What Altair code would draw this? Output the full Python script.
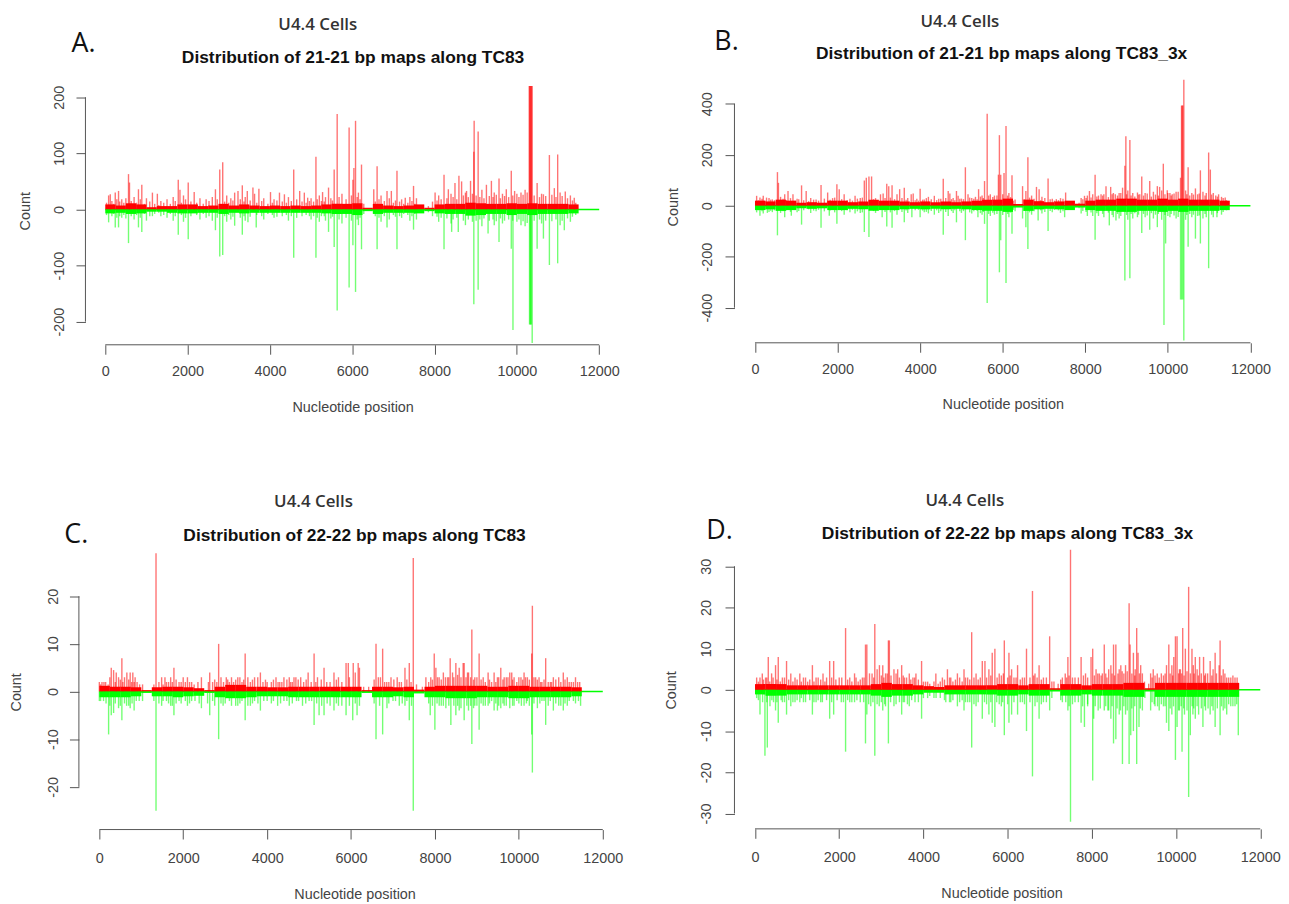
import altair as alt
import pandas as pd

# ---------------- data ----------------
X_TICKS = [0, 2000, 4000, 6000, 8000, 10000, 12000]
BASELINE_END = [0, 12000]
CARPET_BIN = 250  # nt per low-level "carpet" bin, bins cover 0 .. 11500

# Panel A : 21-21 bp maps along TC83
A_RED = [(81,25),(121,27),(242,30),(322,33),(400,18),(564,63),(588,48),(700,22),(806,36),(887,44),(1000,20),(1145,30),(1265,28),(1350,15),(1500,18),(1650,22),(1773,53),(1814,35),(1900,25),(2015,48),(2160,31),(2300,20),(2450,18),(2600,22),(2676,36),(2781,71),(2853,84),(2950,25),(3050,20),(3143,30),(3224,33),(3329,43),(3400,22),(3450,33),(3587,39),(3627,28),(3732,37),(3850,20),(4014,31),(4100,18),(4232,30),(4352,27),(4450,22),(4578,71),(4723,33),(4836,30),(4917,21),(5000,20),(5118,94),(5200,25),(5279,31),(5350,22),(5424,39),(5561,71),(5634,170),(5750,28),(5924,146),(6016,53),(6040,74),(6080,158),(6150,30),(6225,80),(6523,36),(6604,77),(6700,25),(6845,33),(6900,20),(6950,33),(7087,69),(7200,18),(7288,21),(7400,22),(7489,42),(7560,20),(8013,30),(8100,25),(8230,62),(8335,36),(8400,28),(8496,47),(8592,60),(8657,50),(8750,30),(8777,33),(8874,51),(8954,103),(8962,158),(9059,139),(9150,35),(9260,44),(9381,51),(9450,30),(9566,55),(9650,28),(9743,36),(9864,69),(9945,33),(10100,30),(10200,35),(10300,220),(10314,220),(10328,220),(10342,220),(10356,220),(10370,220),(10492,47),(10600,28),(10645,27),(10790,97),(10910,38),(10991,98),(11050,30),(11176,32),(11300,25),(11394,21)]
A_RED_SMALL = [(30,12),(160,15),(200,10),(280,18),(350,14),(450,12),(500,20),(630,15),(760,12),(850,18),(950,10),(1080,14),(1200,10),(1300,8),(1420,12),(1580,10),(1700,15),(1850,12),(1950,18),(2080,14),(2220,12),(2380,10),(2520,15),(2720,18),(2900,14),(3000,12),(3100,16),(3280,18),(3370,14),(3520,16),(3680,12),(3800,15),(3950,10),(4060,12),(4170,16),(4300,14),(4400,12),(4520,15),(4650,18),(4780,14),(4880,12),(4960,15),(5060,14),(5150,18),(5250,15),(5320,14),(5480,20),(5520,16),(5680,22),(5850,18),(5980,25),(6120,22),(6190,18),(6280,10),(6560,14),(6650,18),(6780,15),(7000,12),(7050,16),(7150,14),(7250,10),(7350,12),(7450,15),(7520,10),(7850,6),(7950,14),(8060,16),(8160,18),(8300,20),(8450,22),(8540,18),(8700,25),(8820,22),(8920,28),(9010,25),(9100,22),(9200,20),(9330,24),(9420,22),(9500,26),(9600,20),(9700,24),(9800,22),(9900,25),(10000,28),(10050,22),(10150,26),(10250,30),(10420,25),(10550,22),(10700,24),(10850,26),(10950,22),(11100,24),(11230,20),(11350,16),(11430,12)]
A_GREEN = [(81,-23),(242,-32),(322,-32),(400,-15),(564,-60),(700,-18),(806,-32),(887,-40),(1000,-20),(1145,-12),(1350,-12),(1500,-15),(1650,-20),(1773,-45),(1900,-22),(2015,-53),(2300,-18),(2450,-15),(2600,-20),(2676,-37),(2781,-84),(2853,-81),(2950,-22),(3050,-18),(3143,-29),(3329,-45),(3400,-20),(3466,-23),(3667,-32),(3850,-18),(4100,-15),(4450,-20),(4578,-86),(5000,-18),(5118,-86),(5200,-22),(5350,-20),(5424,-40),(5561,-67),(5634,-180),(5750,-25),(5924,-139),(6016,-64),(6080,-147),(6150,-28),(6225,-71),(6604,-71),(6700,-22),(6845,-32),(6900,-18),(7087,-71),(7200,-15),(7400,-20),(7489,-36),(7560,-18),(8100,-22),(8230,-71),(8400,-25),(8415,-40),(8576,-40),(8750,-28),(8954,-169),(9059,-143),(9150,-30),(9300,-43),(9450,-28),(9566,-58),(9650,-25),(9864,-70),(9905,-215),(10100,-28),(10200,-30),(10307,-205),(10322,-205),(10336,-205),(10350,-205),(10372,-238),(10492,-70),(10600,-25),(10645,-52),(10790,-99),(10991,-96),(11050,-28),(11152,-37),(11300,-22)]
A_GREEN_SMALL = [(30,-10),(160,-12),(200,-8),(280,-15),(350,-12),(450,-10),(500,-16),(630,-12),(760,-10),(850,-15),(950,-8),(1080,-12),(1200,-8),(1300,-6),(1420,-10),(1580,-8),(1700,-12),(1850,-10),(1950,-15),(2080,-12),(2220,-10),(2380,-8),(2520,-12),(2720,-15),(2900,-12),(3000,-10),(3100,-13),(3280,-15),(3370,-12),(3520,-13),(3680,-10),(3800,-12),(3950,-8),(4060,-10),(4170,-13),(4300,-12),(4400,-10),(4520,-12),(4650,-15),(4780,-12),(4880,-10),(4960,-12),(5060,-12),(5150,-15),(5250,-12),(5320,-12),(5480,-16),(5520,-13),(5680,-18),(5850,-15),(5980,-20),(6120,-18),(6190,-15),(6280,-8),(6560,-12),(6650,-15),(6780,-12),(7000,-10),(7050,-13),(7150,-12),(7250,-8),(7350,-10),(7450,-12),(7520,-8),(7850,-5),(7950,-12),(8060,-13),(8160,-15),(8300,-16),(8450,-18),(8540,-15),(8700,-20),(8820,-18),(8920,-22),(9010,-20),(9100,-18),(9200,-16),(9330,-20),(9420,-18),(9500,-21),(9600,-16),(9700,-20),(9800,-18),(9900,-20),(10000,-22),(10050,-18),(10150,-21),(10250,-24),(10420,-20),(10550,-18),(10700,-20),(10850,-21),(10950,-18),(11100,-20),(11230,-16),(11350,-13),(11430,-10)]
A_RED_CARPET = [9,7,11,9,4,6,6,9,9,6,7,10,7,9,7,6,7,6,7,6,7,9,10,10,11,3,10,7,6,7,9,3,9,10,10,12,11,10,10,11,10,11,10,10,10,9]
A_GREEN_CARPET = [7,6,8,7,4,4,6,7,7,6,6,8,6,7,6,6,6,6,6,6,6,7,8,8,10,3,8,6,6,6,7,3,7,8,8,11,10,8,8,10,8,10,8,8,8,7]

# Panel B : 21-21 bp maps along TC83_3x
B_RED = [(40,39),(120,32),(200,39),(280,32),(420,25),(544,132),(568,90),(720,45),(800,58),(920,45),(1020,28),(1128,80),(1240,58),(1350,30),(1480,25),(1600,81),(1760,52),(1880,30),(1984,84),(2040,65),(2160,45),(2300,28),(2424,39),(2550,30),(2648,99),(2696,110),(2760,115),(2824,115),(2920,30),(3040,45),(3104,48),(3192,86),(3240,77),(3320,80),(3440,45),(3504,65),(3616,71),(3700,30),(3784,45),(3832,48),(3920,28),(4000,67),(4100,25),(4200,35),(4344,39),(4450,28),(4560,106),(4680,58),(4720,48),(4800,30),(4880,58),(4920,39),(5000,28),(5096,151),(5160,45),(5250,30),(5340,35),(5416,65),(5500,40),(5560,97),(5624,361),(5700,45),(5800,40),(5896,122),(5920,277),(5952,122),(6032,129),(6080,313),(6150,50),(6225,120),(6300,25),(6481,77),(6561,58),(6610,190),(6700,40),(6818,74),(6882,65),(6950,35),(7099,107),(7200,28),(7299,26),(7400,30),(7524,52),(7900,30),(7981,39),(8050,40),(8101,58),(8180,45),(8238,122),(8320,40),(8382,45),(8450,45),(8502,77),(8615,74),(8680,50),(8727,45),(8820,50),(8903,71),(8959,157),(8983,273),(9030,60),(9080,258),(9150,50),(9264,52),(9320,45),(9368,115),(9450,50),(9561,97),(9650,55),(9745,77),(9801,74),(9850,60),(9890,165),(9986,61),(10050,50),(10106,45),(10200,55),(10307,110),(10331,393),(10347,393),(10363,393),(10387,494),(10430,60),(10491,151),(10580,50),(10668,68),(10720,45),(10788,139),(10850,55),(10930,50),(10988,209),(11029,142),(11100,50),(11160,40),(11229,45),(11300,35),(11389,32)]
B_RED_SMALL = [(80,22),(170,28),(240,20),(340,30),(380,24),(470,22),(620,35),(680,28),(760,22),(860,30),(970,20),(1060,26),(1180,22),(1300,18),(1420,24),(1540,20),(1680,28),(1820,24),(1930,32),(2100,26),(2230,22),(2360,20),(2480,28),(2600,32),(2870,26),(2980,22),(3150,30),(3280,32),(3380,26),(3560,30),(3660,24),(3880,22),(3960,20),(4060,24),(4150,30),(4270,26),(4400,22),(4500,28),(4620,30),(4760,26),(4840,22),(4960,28),(5050,26),(5200,32),(5300,28),(5380,26),(5460,36),(5530,30),(5660,40),(5760,34),(5860,40),(6000,45),(6120,40),(6190,34),(6260,20),(6520,26),(6650,32),(6760,28),(6920,22),(7020,30),(7150,26),(7250,20),(7350,22),(7460,28),(7560,18),(7850,12),(7940,26),(8020,30),(8140,32),(8280,36),(8420,40),(8560,34),(8650,45),(8780,40),(8860,50),(9000,45),(9110,40),(9200,36),(9290,44),(9410,40),(9500,48),(9600,36),(9700,44),(9770,40),(9930,45),(10000,50),(10080,40),(10150,48),(10250,55),(10460,45),(10530,40),(10620,44),(10760,48),(10900,40),(11060,44),(11200,36),(11340,30),(11420,22)]
B_GREEN = [(40,-26),(120,-39),(200,-30),(300,-28),(420,-25),(544,-116),(720,-45),(880,-39),(1020,-25),(1128,-74),(1350,-28),(1480,-22),(1600,-86),(1800,-39),(1984,-71),(2160,-35),(2300,-25),(2424,-30),(2550,-28),(2648,-103),(2760,-123),(2920,-28),(3080,-45),(3192,-81),(3320,-86),(3440,-35),(3616,-65),(3700,-28),(3800,-45),(4000,-45),(4100,-25),(4200,-30),(4344,-35),(4450,-28),(4560,-114),(4680,-40),(4800,-28),(4880,-65),(5000,-28),(5096,-135),(5250,-30),(5400,-45),(5500,-35),(5560,-71),(5624,-381),(5700,-40),(5800,-35),(5920,-261),(5952,-135),(6080,-303),(6150,-45),(6225,-110),(6300,-22),(6481,-50),(6561,-84),(6610,-170),(6700,-35),(6858,-58),(6950,-30),(7099,-99),(7200,-25),(7400,-28),(7500,-45),(7900,-30),(8050,-40),(8180,-40),(8238,-133),(8320,-40),(8450,-45),(8582,-77),(8680,-45),(8743,-58),(8820,-50),(8959,-293),(9030,-55),(9080,-284),(9150,-50),(9264,-45),(9368,-107),(9450,-45),(9561,-94),(9650,-50),(9745,-84),(9850,-55),(9906,-468),(9946,-148),(10050,-45),(10200,-50),(10307,-368),(10335,-368),(10363,-368),(10387,-529),(10430,-55),(10491,-161),(10580,-45),(10668,-129),(10720,-40),(10788,-148),(10850,-50),(10930,-45),(10988,-245),(11100,-45),(11189,-45),(11300,-35)]
B_GREEN_SMALL = [(80,-18),(170,-22),(240,-16),(340,-24),(380,-20),(470,-18),(620,-28),(680,-22),(760,-18),(860,-24),(970,-16),(1060,-21),(1180,-18),(1300,-14),(1420,-19),(1540,-16),(1680,-22),(1820,-19),(1930,-26),(2100,-21),(2230,-18),(2360,-16),(2480,-22),(2600,-26),(2870,-21),(2980,-18),(3150,-24),(3280,-26),(3380,-21),(3560,-24),(3660,-19),(3880,-18),(3960,-16),(4060,-19),(4150,-24),(4270,-21),(4400,-18),(4500,-22),(4620,-24),(4760,-21),(4840,-18),(4960,-22),(5050,-21),(5200,-26),(5300,-22),(5380,-21),(5460,-29),(5530,-24),(5660,-32),(5760,-27),(5860,-32),(6000,-36),(6120,-32),(6190,-27),(6260,-16),(6520,-21),(6650,-26),(6760,-22),(6920,-18),(7020,-24),(7150,-21),(7250,-16),(7350,-18),(7460,-22),(7560,-14),(7850,-10),(7940,-21),(8020,-24),(8140,-26),(8280,-29),(8420,-32),(8560,-27),(8650,-36),(8780,-32),(8860,-40),(9000,-36),(9110,-32),(9200,-29),(9290,-35),(9410,-32),(9500,-38),(9600,-29),(9700,-35),(9770,-32),(9930,-36),(10000,-40),(10080,-32),(10150,-38),(10250,-44),(10460,-36),(10530,-32),(10620,-35),(10760,-38),(10900,-32),(11060,-35),(11200,-29),(11340,-24),(11420,-18)]
B_RED_CARPET = [20,17,24,20,12,14,12,20,20,14,17,24,20,20,17,14,17,14,17,14,17,20,24,24,28,7,24,18,14,17,20,8,20,24,24,28,28,24,24,28,24,28,24,24,24,20]
B_GREEN_CARPET = [17,14,20,17,10,12,10,17,17,12,14,20,17,17,14,12,14,12,14,12,14,17,20,20,24,7,20,14,12,14,17,7,17,20,20,24,24,20,20,24,20,24,20,20,20,17]

# Panel C : 22-22 bp maps along TC83
C_RED = [(0,2),(63,2),(150,2),(284,5),(340,4.5),(403,4),(458,3),(537,7),(600,3),(656,4),(735,4),(798,4),(853,3),(900,2),(1351,29),(1485,3),(1564,3),(1600,2),(1700,3),(1778,5),(1900,2),(1999,3),(2100,3),(2200,2),(2433,3),(2631,4),(2700,2),(2844,10),(2900,3),(3026,3),(3100,2),(3200,2),(3300,3),(3400,2),(3476,8),(3600,2),(3700,3),(3776,3),(3839,4),(4000,2),(4211,3),(4300,2),(4400,3),(4527,3),(4600,2),(4685,3),(4800,3),(4977,4),(5050,2),(5119,8),(5200,3),(5356,5),(5500,2),(5593,4),(5700,3),(5881,6),(5934,6),(6052,6),(6100,4),(6170,6),(6200,5),(6595,10),(6650,3),(6753,9),(6850,2),(6952,3),(7100,3),(7200,2),(7285,5),(7388,6),(7483,28),(7784,3),(7900,3),(7983,8),(8022,5),(8100,3),(8200,4),(8300,3),(8363,7),(8419,4),(8450,3),(8498,6),(8578,5),(8672,6),(8696,6),(8776,4),(8800,4),(8879,13),(8950,3),(9053,8),(9150,3),(9267,4),(9350,2),(9410,4),(9489,3),(9569,5),(9650,3),(9700,3),(9783,4),(9830,4),(9886,3),(9950,2),(10050,3),(10124,4),(10203,3),(10306,8),(10322,18),(10400,3),(10481,3),(10550,2),(10639,7),(10750,2),(10822,3),(10950,3),(11059,4),(11154,3),(11250,2),(11350,3),(11450,2)]
C_RED_SMALL = [(30,1.5),(110,2),(210,1.5),(250,3),(380,2),(500,2.5),(560,2),(700,2.5),(770,2),(830,2),(960,1.5),(1030,1.5),(1300,1.5),(1420,2),(1520,1.5),(1650,2),(1740,2),(1830,2.5),(1950,2),(2050,2),(2150,2),(2260,1.5),(2350,2),(2600,2),(2750,2.5),(2800,2),(2960,2),(3060,2.5),(3150,3),(3250,2.5),(3350,3),(3440,2.5),(3540,3),(3650,2.5),(3900,2),(3960,2.5),(4100,2),(4150,2.5),(4260,2),(4350,2),(4470,2.5),(4560,2),(4640,3),(4740,2.5),(4870,2),(4930,2.5),(5160,2),(5290,2.5),(5420,2),(5650,2.5),(5780,2),(5960,3),(6300,1),(6420,1),(6550,2.5),(6700,3),(6800,2),(6900,2),(7020,2.5),(7150,2),(7330,2.5),(7430,2),(7560,1.5),(7700,1),(7850,2),(7940,2.5),(8060,3),(8150,2.5),(8250,3),(8330,3),(8540,3.5),(8620,3),(8740,3),(8850,3),(8920,2.5),(9000,3),(9100,2.5),(9200,2),(9300,2.5),(9450,2),(9520,3),(9620,2.5),(9740,3),(9850,2.5),(10000,3),(10090,2.5),(10160,3),(10250,2.5),(10360,3),(10440,2.5),(10520,2),(10600,2.5),(10700,2),(10780,2),(10880,2.5),(11000,2),(11100,2.5),(11200,2),(11300,2),(11400,2)]
C_GREEN = [(0,-2),(100,-2),(221,-9),(284,-5),(340,-4.5),(458,-3.5),(537,-6),(650,-3),(735,-3.5),(829,-4),(950,-2),(1351,-25),(1485,-3),(1600,-2),(1700,-3),(1778,-5),(1900,-2),(2100,-3),(2200,-2),(2433,-3.5),(2631,-5),(2700,-2),(2844,-10),(2950,-3),(3100,-2),(3250,-3),(3400,-2),(3476,-6),(3600,-3),(3700,-2),(3839,-4),(4000,-2),(4250,-3),(4400,-2),(4527,-3),(4700,-2),(4843,-3),(5000,-2),(5119,-7),(5238,-5),(5356,-5),(5500,-3),(5593,-4),(5700,-3),(5881,-5),(6040,-6),(6143,-5),(6595,-10),(6753,-9),(6856,-3.5),(7000,-2),(7150,-3),(7285,-3),(7388,-6),(7483,-25),(7887,-5),(7998,-8),(8101,-3),(8200,-3),(8379,-7),(8450,-3),(8498,-5),(8578,-4),(8696,-6),(8800,-4),(8879,-11),(8950,-3),(9053,-8),(9150,-3),(9267,-3),(9350,-2),(9410,-4),(9489,-4),(9569,-3.5),(9650,-3),(9783,-3.5),(9886,-3),(9950,-2),(10124,-3),(10200,-2),(10306,-9),(10322,-17),(10441,-3.5),(10550,-2),(10639,-7),(10750,-2),(10822,-4),(10950,-3),(11059,-4),(11154,-3),(11300,-2),(11471,-3)]
C_GREEN_SMALL = [(30,-2),(160,-2.5),(250,-3),(380,-2.5),(500,-3),(600,-2.5),(700,-3),(780,-2.5),(880,-2),(1030,-2),(1300,-2),(1420,-2.5),(1520,-2),(1650,-2.5),(1740,-3),(1830,-2.5),(1950,-2.5),(2050,-2),(2150,-2.5),(2280,-2),(2380,-2.5),(2580,-2.5),(2750,-3),(2900,-2.5),(3000,-2.5),(3150,-3),(3300,-3),(3350,-2.5),(3540,-3),(3650,-2.5),(3780,-2.5),(3920,-2),(4100,-2.5),(4150,-2),(4320,-2.5),(4470,-2),(4600,-2.5),(4750,-2),(4920,-2.5),(5060,-2),(5180,-2.5),(5300,-3),(5430,-2.5),(5650,-2.5),(5780,-3),(5960,-3),(6100,-2.5),(6200,-3),(6550,-2.5),(6680,-3),(6900,-2.5),(7060,-2),(7220,-2.5),(7330,-2),(7440,-3),(7850,-2.5),(7940,-3),(8050,-2.5),(8150,-3),(8260,-3.5),(8330,-3),(8540,-3),(8620,-3.5),(8760,-3),(8850,-3),(8920,-3.5),(9000,-3),(9100,-2.5),(9200,-3),(9300,-2.5),(9450,-2.5),(9520,-3),(9620,-2.5),(9700,-3),(9850,-3),(10000,-2.5),(10060,-3),(10180,-2.5),(10250,-3),(10360,-2.5),(10500,-2.5),(10600,-2),(10700,-3),(10880,-2.5),(11000,-3),(11100,-2.5),(11200,-2),(11350,-2.5),(11420,-2)]
C_RED_CARPET = [1.2,1.0,1.0,0.9,0.3,0.9,1.0,1.0,0.9,0.7,0.3,1.0,1.4,1.4,1.0,1.0,0.9,0.9,1.0,1.0,1.0,1.0,1.0,1.0,1.0,0.3,1.0,1.0,0.9,1.0,0.4,1.0,1.2,1.2,1.2,1.2,1.2,1.0,1.0,1.2,1.2,1.0,1.0,1.0,1.0,0.9]
C_GREEN_CARPET = [1.2,1.2,1.2,1.0,0.3,1.0,1.0,1.2,1.0,0.9,0.3,1.2,1.4,1.4,1.2,1.0,1.0,1.0,1.2,1.2,1.2,1.2,1.2,1.2,1.2,0.3,1.2,1.2,1.0,1.2,0.4,1.2,1.2,1.4,1.4,1.4,1.2,1.2,1.2,1.4,1.4,1.2,1.2,1.2,1.2,1.0]

# Panel D : 22-22 bp maps along TC83_3x
D_RED = [(39,3),(118,3),(173,4),(250,3),(315,8),(394,4),(488,6),(552,8),(650,3),(749,7),(850,4),(950,3),(1064,4),(1150,3),(1250,2),(1363,6),(1450,3),(1615,4),(1700,3),(1773,7),(1868,7),(2000,3),(2151,15),(2250,3),(2364,4),(2450,2),(2550,3),(2624,11),(2656,11),(2719,4),(2845,16),(2900,5),(2955,6),(3034,6),(3100,4),(3168,12),(3191,12),(3300,5),(3388,5),(3483,6),(3550,3),(3664,4),(3750,3),(3822,4),(3956,7),(4100,2),(4295,4),(4450,3),(4570,5),(4650,3),(4807,4),(4964,5),(5050,3),(5146,14),(5250,4),(5350,3),(5398,7),(5461,7),(5555,5),(5634,9),(5697,10),(5800,4),(5898,4),(5921,12),(6031,9),(6094,5),(6150,3),(6236,6),(6350,3),(6448,10),(6590,24),(6650,4),(6747,6),(6850,3),(6998,13),(7100,2),(7300,3),(7368,4),(7431,8),(7493,34),(7600,3),(7745,8),(7850,4),(7981,8),(8020,10),(8100,5),(8177,4),(8250,4),(8295,11),(8400,5),(8452,6),(8515,11),(8570,11),(8650,5),(8688,6),(8800,6),(8885,21),(8908,11),(8987,9),(9030,5),(9065,15),(9097,9),(9160,6),(9200,4),(9396,4),(9458,5),(9553,4),(9650,4),(9773,6),(9828,11),(9900,6),(9946,8),(9985,13),(10024,13),(10080,5),(10103,5),(10158,15),(10221,10),(10299,25),(10378,10),(10410,6),(10457,8),(10500,5),(10559,8),(10653,8),(10700,4),(10810,7),(10880,5),(10928,9),(11023,6),(11046,12),(11120,5),(11203,3),(11300,3),(11400,3)]
D_RED_SMALL = [(80,2),(200,2.5),(280,3),(350,2),(430,3),(520,2.5),(600,2),(700,3),(800,2.5),(900,2),(1000,2.5),(1100,2),(1200,3),(1300,2.5),(1400,2),(1500,3),(1560,2.5),(1660,2),(1820,3),(1920,2.5),(2060,3),(2200,2.5),(2300,2),(2400,3),(2500,2.5),(2590,3),(2780,4),(2820,3),(3000,3.5),(3060,3),(3140,4),(3230,3.5),(3350,4),(3430,3),(3520,3.5),(3600,3),(3700,2.5),(3790,3),(3880,2.5),(4000,2),(4050,2),(4150,1.5),(4250,2),(4350,1.5),(4400,2),(4500,2.5),(4620,3),(4700,2),(4760,2.5),(4860,3),(4920,2),(5000,3),(5100,2.5),(5200,3),(5300,2.5),(5500,3),(5600,3.5),(5750,3),(5850,3.5),(6000,3),(6060,3.5),(6200,3),(6300,2.5),(6400,3),(6530,3),(6620,3.5),(6700,3),(6800,2.5),(6920,3),(7050,2),(7200,1.5),(7260,2.5),(7400,3),(7460,3.5),(7540,3),(7680,3),(7800,3.5),(7900,3),(8060,3.5),(8140,4),(8220,3.5),(8330,4),(8360,3),(8480,4),(8540,3.5),(8620,4),(8720,4.5),(8760,4),(8840,4.5),(8950,4),(9020,3.5),(9130,4),(9250,2),(9350,1.5),(9430,3),(9500,3.5),(9600,3),(9700,3.5),(9740,4),(9860,4),(9920,3.5),(10060,4),(10130,4),(10190,3.5),(10260,4.5),(10340,4),(10430,4),(10530,3.5),(10600,4),(10680,3.5),(10750,4),(10850,3.5),(10960,4),(11080,3.5),(11160,4),(11250,3),(11350,3.5),(11450,3)]
D_GREEN = [(39,-2),(118,-6),(236,-16),(292,-14),(355,-4),(488,-5),(552,-8),(650,-3),(749,-6),(850,-4),(950,-3),(1064,-3),(1150,-3),(1363,-6),(1450,-3),(1600,-3),(1773,-7),(1868,-6),(2049,-3),(2151,-15),(2250,-3),(2364,-3),(2500,-3),(2624,-13),(2656,-6),(2750,-4),(2845,-16),(2950,-4),(3034,-5),(3100,-4),(3168,-13),(3300,-4),(3483,-6),(3550,-3),(3664,-4),(3800,-3),(3956,-7),(4100,-2),(4300,-2),(4531,-3),(4650,-3),(4807,-4),(4964,-5),(5050,-3),(5146,-14),(5250,-4),(5398,-7),(5555,-6),(5634,-8),(5697,-9),(5741,-3),(5850,-4),(5921,-11),(6031,-8),(6094,-6),(6236,-6),(6350,-3),(6448,-10),(6590,-21),(6650,-4),(6747,-7),(6850,-3),(6998,-5),(7300,-3),(7431,-5),(7493,-32),(7600,-3),(7745,-8),(7824,-9),(7900,-4),(8020,-22),(8044,-7),(8150,-5),(8295,-5),(8400,-5),(8452,-7),(8515,-13),(8570,-12),(8650,-6),(8727,-18),(8800,-6),(8885,-18),(8924,-11),(8987,-10),(9065,-18),(9120,-9),(9200,-5),(9396,-5),(9500,-4),(9600,-5),(9700,-4),(9773,-8),(9828,-10),(9900,-6),(9985,-17),(10024,-9),(10080,-5),(10142,-15),(10200,-6),(10299,-26),(10339,-11),(10400,-6),(10457,-7),(10536,-6),(10638,-9),(10700,-5),(10810,-6),(10880,-5),(10928,-9),(11046,-11),(11120,-5),(11203,-6),(11300,-4),(11400,-4),(11478,-11)]
D_GREEN_SMALL = [(80,-2.5),(180,-3),(280,-3),(400,-2.5),(440,-3),(520,-3),(620,-2.5),(700,-3),(800,-2.5),(900,-3),(1000,-2.5),(1100,-2),(1200,-3),(1300,-2.5),(1400,-3),(1500,-2.5),(1560,-3),(1700,-2.5),(1820,-3),(1950,-2.5),(2100,-3),(2200,-2.5),(2300,-3),(2420,-2.5),(2580,-3),(2700,-3.5),(2800,-3),(2900,-3.5),(3000,-3),(3080,-3.5),(3220,-3),(3350,-3.5),(3430,-3),(3520,-3),(3620,-3.5),(3720,-2.5),(3880,-3),(4000,-2),(4150,-1.5),(4250,-2),(4400,-2),(4500,-2.5),(4620,-3),(4700,-2.5),(4860,-3),(4920,-2.5),(5000,-3),(5100,-3),(5200,-3.5),(5300,-3),(5450,-3),(5500,-3.5),(5600,-3),(5800,-3.5),(5880,-3),(6000,-3.5),(6150,-3),(6300,-3),(6400,-3.5),(6530,-3),(6700,-3),(6800,-3.5),(6920,-3),(7050,-2),(7260,-2.5),(7380,-3),(7460,-4),(7540,-3.5),(7680,-3),(7780,-4),(7900,-3.5),(8080,-4),(8200,-4.5),(8330,-4),(8380,-5),(8480,-4),(8600,-4.5),(8680,-5),(8760,-4),(8840,-5),(8950,-4.5),(9020,-4),(9150,-4.5),(9260,-2),(9430,-3),(9480,-3.5),(9560,-4),(9650,-3.5),(9740,-4),(9860,-4.5),(9940,-4),(10060,-5),(10120,-4),(10180,-4.5),(10260,-5),(10380,-4),(10420,-4.5),(10500,-4),(10600,-4.5),(10680,-4),(10760,-4.5),(10850,-4),(10980,-4.5),(11080,-4),(11160,-4.5),(11250,-3.5),(11350,-4),(11440,-3.5)]
D_RED_CARPET = [1.4,1.4,1.4,1.1,1.1,1.1,1.1,1.1,1.1,1.1,1.1,1.4,1.7,1.4,1.4,1.1,0.9,0.7,1.1,1.1,1.1,1.1,1.1,1.4,1.4,1.1,1.4,1.4,0.4,1.4,1.4,1.1,1.4,1.4,1.4,1.7,1.7,0.4,1.7,1.7,1.7,1.7,1.7,1.7,1.7,1.7]
D_GREEN_CARPET = [1.1,1.4,1.4,1.1,1.1,1.1,1.1,1.1,1.1,1.1,1.1,1.4,1.7,1.4,1.4,1.1,0.7,0.7,1.1,1.1,1.1,1.1,1.1,1.4,1.4,1.1,1.4,1.4,0.4,1.4,1.4,1.1,1.4,1.4,1.4,1.7,1.7,0.4,1.7,1.7,1.7,1.7,1.7,1.7,1.7,1.7]

CELL_LINE = "U4.4 Cells"
X_TITLE = "Nucleotide position"
Y_TITLE = "Count"

# ---------------- styling / layout ----------------
FONT = "Liberation Sans"
AXC = "#555555"
TXC = "#444444"
RED = "#ff0000"
GREEN = "#00ff00"

PANELS = [
    dict(letter="A.", sub="Distribution of 21-21 bp maps along TC83",
         red=A_RED + A_RED_SMALL, green=A_GREEN + A_GREEN_SMALL, cr=A_RED_CARPET, cg=A_GREEN_CARPET,
         w=538.1, h=268, xdom=[-482, 12500], ydom=[-241.2, 233.1], yticks=[-200, -100, 0, 100, 200], off=0,
         cells=(234, -54), let=(-2, -35), dist=(269.5, -21), countx=-60.8, county=133,
         ylab=16.5, xlab=17.5, xtitle=63.5),
    dict(letter="B.", sub="Distribution of 21-21 bp maps along TC83_3x",
         red=B_RED + B_RED_SMALL, green=B_GREEN + B_GREEN_SMALL, cr=B_RED_CARPET, cg=B_GREEN_CARPET,
         w=540.4, h=266, xdom=[-497, 12500], ydom=[-537.6, 498.6], yticks=[-400, -200, 0, 200, 400], off=0,
         cells=(227, -57.5), let=(-8, -36.5), dist=(269, -25), countx=-61.5, county=129,
         ylab=18, xlab=17.5, xtitle=62.5),
    dict(letter="C.", sub="Distribution of 22-22 bp maps along TC83",
         red=C_RED + C_RED_SMALL, green=C_GREEN + C_GREEN_SMALL, cr=C_RED_CARPET, cg=C_GREEN_CARPET,
         w=542.1, h=281.7, xdom=[-331, 12500], ydom=[-28.96, 29.73], yticks=[-20, -10, 0, 10, 20], off=6.6,
         cells=(229.7, -48.5), let=(-9.3, -15), dist=(271, -14), countx=-62.5, county=143,
         ylab=16.2, xlab=19.5, xtitle=65),
    dict(letter="D.", sub="Distribution of 22-22 bp maps along TC83_3x",
         red=D_RED + D_RED_SMALL, green=D_GREEN + D_GREEN_SMALL, cr=D_RED_CARPET, cg=D_GREEN_CARPET,
         w=538, h=281, xdom=[-488, 12200], ydom=[-33.73, 33.98], yticks=[-30, -20, -10, 0, 10, 20, 30], off=0,
         cells=(232, -49.5), let=(-15, -18.5), dist=(275, -16), countx=-63, county=141,
         ylab=18.5, xlab=19.5, xtitle=65.5),
]


def text_layer(txt, xy, **style):
    df = pd.DataFrame({"t": [txt]})
    return alt.Chart(df).mark_text(align="center", baseline="middle", **style).encode(
        x=alt.value(xy[0]), y=alt.value(xy[1]), text="t:N")


def build(p):
    w, h = p["w"], p["h"]
    xs = alt.Scale(domain=p["xdom"], nice=False, zero=False)
    ys = alt.Scale(domain=p["ydom"], nice=False, zero=False)
    xaxis = alt.Axis(values=X_TICKS, labelExpr="'' + datum.value", domain=False, grid=False,
                     tickSize=9.5, tickColor=AXC, tickWidth=1,
                     labelFont=FONT, labelFontSize=14.5, labelColor=TXC, labelPadding=p["xlab"],
                     labelBaseline="middle", labelAlign="center", labelAngle=0,
                     labelFlush=False, labelOverlap=False,
                     title=X_TITLE, titleFont=FONT, titleFontSize=14.5, titleFontWeight="normal",
                     titleColor=TXC, titleX=w / 2, titleY=p["xtitle"], titleAlign="center",
                     titleBaseline="middle", titleAngle=0)
    yaxis = alt.Axis(values=p["yticks"], labelExpr="'' + datum.value", domain=False, grid=False,
                     tickSize=9.5, tickColor=AXC, tickWidth=1, offset=p["off"],
                     labelFont=FONT, labelFontSize=14.5, labelColor=TXC, labelPadding=p["ylab"],
                     labelAngle=270, labelAlign="center", labelBaseline="middle",
                     labelFlush=False, labelOverlap=False,
                     title=Y_TITLE, titleFont=FONT, titleFontSize=14.5, titleFontWeight="normal",
                     titleColor=TXC, titleAngle=270, titleX=p["countx"], titleY=p["county"],
                     titleAlign="center", titleBaseline="middle")

    n = len(p["cr"])
    carpet = pd.DataFrame({
        "start": [i * CARPET_BIN for i in range(n)],
        "end": [(i + 1) * CARPET_BIN for i in range(n)],
        "up": p["cr"],
        "down": [-v for v in p["cg"]],
        "zero": [0] * n,
    })
    reds = pd.DataFrame(p["red"], columns=["pos", "count"])
    reds["zero"] = 0
    greens = pd.DataFrame(p["green"], columns=["pos", "count"])
    greens["zero"] = 0
    base = pd.DataFrame({"a": [BASELINE_END[0]], "b": [BASELINE_END[1]], "z": [0]})
    yline = pd.DataFrame({"lo": [p["yticks"][0]], "hi": [p["yticks"][-1]]})
    xline = pd.DataFrame({"lo": [X_TICKS[0]], "hi": [X_TICKS[-1]]})

    X = lambda f: alt.X(f, scale=xs, axis=xaxis)
    Y = lambda f: alt.Y(f, scale=ys, axis=yaxis)

    baseline = alt.Chart(base).mark_rule(color=GREEN, strokeWidth=1.5).encode(
        x=X("a:Q"), x2="b:Q", y=Y("z:Q"))
    c_red = alt.Chart(carpet).mark_rect(color=RED).encode(
        x=X("start:Q"), x2="end:Q", y=Y("up:Q"), y2="zero:Q")
    c_green = alt.Chart(carpet).mark_rect(color=GREEN).encode(
        x=X("start:Q"), x2="end:Q", y=Y("down:Q"), y2="zero:Q")
    s_red = alt.Chart(reds).mark_rule(color=RED, strokeWidth=1.4, opacity=0.55).encode(
        x=X("pos:Q"), y=Y("count:Q"), y2="zero:Q")
    s_green = alt.Chart(greens).mark_rule(color=GREEN, strokeWidth=1.4, opacity=0.55).encode(
        x=X("pos:Q"), y=Y("count:Q"), y2="zero:Q")
    yl = alt.Chart(yline).mark_rule(color=AXC, strokeWidth=1).encode(
        x=alt.value(-p["off"]), y=Y("lo:Q"), y2="hi:Q")
    xl = alt.Chart(xline).mark_rule(color=AXC, strokeWidth=1).encode(
        x=X("lo:Q"), x2="hi:Q", y=alt.value(h))

    t_cells = text_layer(CELL_LINE, p["cells"], font="Open Sans", fontSize=17, fontWeight=600, color="#333333")
    t_let = text_layer(p["letter"], p["let"], font="Open Sans", fontSize=27, fontWeight=400, color="#111111")
    t_dist = text_layer(p["sub"], p["dist"], font=FONT, fontSize=17.5, fontWeight="bold", color="#111111")

    return alt.layer(baseline, c_red, c_green, s_red, s_green, yl, xl, t_cells, t_let, t_dist).properties(
        width=w, height=h)


pA, pB, pC, pD = [build(p) for p in PANELS]
row1 = alt.hconcat(pA, pB, spacing=114.6, bounds="flush")
row2 = alt.hconcat(pC, pD, spacing=110.6, bounds="flush")
# nested rows count as zero height with flush bounds, so the spacing carries row 1's height (268) too
chart = alt.vconcat(row1, row2, spacing=474.5, bounds="flush").properties(
    padding={"left": 0, "top": 1, "right": 0, "bottom": 0}, background="white"
).configure_view(stroke=None)

chart.save("out.html", embed_options={"renderer": "svg", "actions": False})
